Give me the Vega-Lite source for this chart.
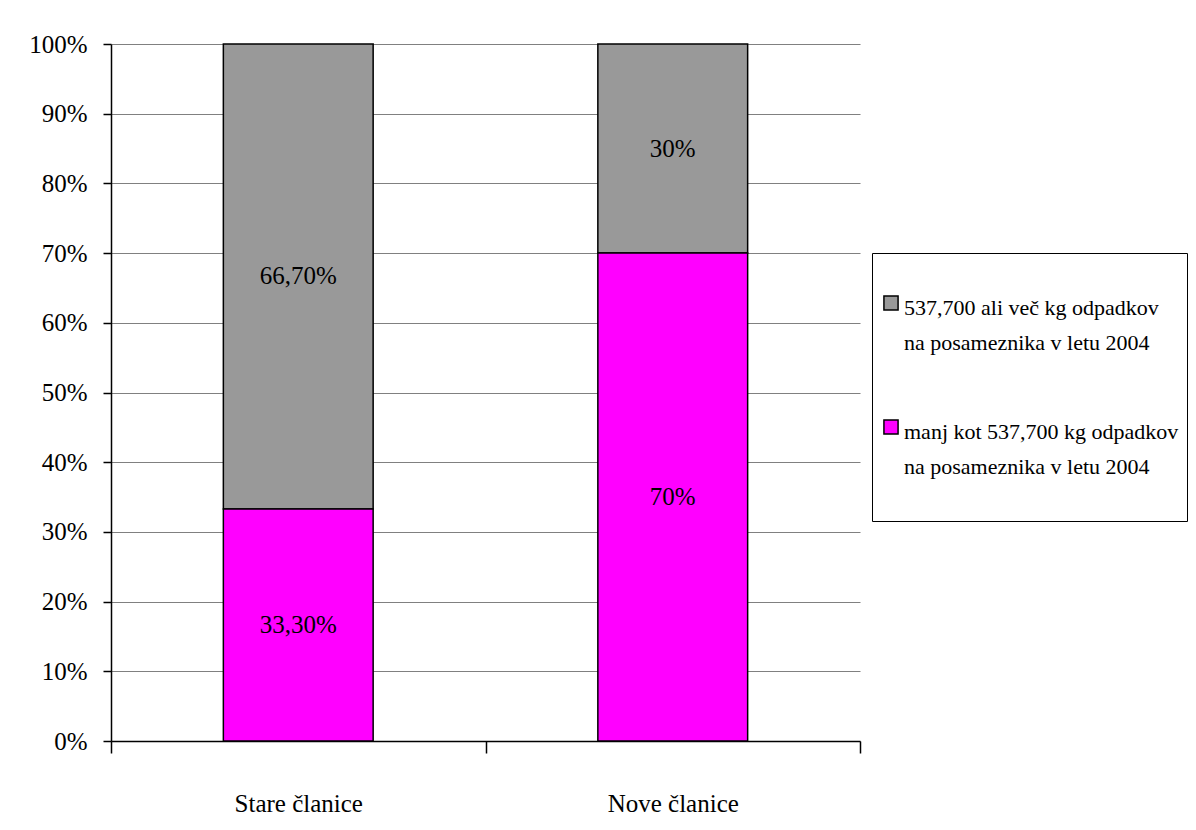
{
  "$schema": "https://vega.github.io/schema/vega-lite/v6.json",
  "autosize": {"type": "none"},
  "width": 749,
  "height": 697,
  "padding": {"left": 111, "top": 44, "right": 336, "bottom": 89},
  "background": "white",
  "data": {
    "values": [
      {"group": "Stare članice", "cat": "537,700 ali več kg odpadkov|na posameznika v letu 2004", "value": 0.667, "label": "66,70%", "ord": 2},
      {"group": "Stare članice", "cat": "manj kot 537,700 kg odpadkov|na posameznika v letu 2004", "value": 0.333, "label": "33,30%", "ord": 1},
      {"group": "Nove članice", "cat": "537,700 ali več kg odpadkov|na posameznika v letu 2004", "value": 0.30, "label": "30%", "ord": 2},
      {"group": "Nove članice", "cat": "manj kot 537,700 kg odpadkov|na posameznika v letu 2004", "value": 0.70, "label": "70%", "ord": 1}
    ]
  },
  "transform": [
    {"stack": "value", "groupby": ["group"], "sort": [{"field": "ord", "order": "ascending"}], "as": ["y0", "y1"]},
    {"calculate": "(datum.y0 + datum.y1) / 2", "as": "ymid"}
  ],
  "encoding": {
    "x": {
      "field": "group", "type": "nominal",
      "sort": ["Stare članice", "Nove članice"],
      "scale": {"paddingInner": 0, "paddingOuter": 0},
      "axis": {
        "title": null, "labelAngle": 0, "tickBand": "extent",
        "labelFont": "Liberation Serif", "labelFontSize": 25, "labelColor": "black",
        "labelPadding": 38, "tickSize": 12, "tickColor": "black", "tickWidth": 1.5,
        "domainColor": "black", "domainWidth": 1.5, "grid": false
      }
    }
  },
  "layer": [
    {
      "mark": {"type": "bar", "width": {"band": 0.4}, "stroke": "black", "strokeWidth": 1.5},
      "encoding": {
        "y": {
          "field": "y0", "type": "quantitative",
          "scale": {"domain": [0, 1], "nice": false},
          "axis": {
            "title": null, "format": ".0%", "values": [0, 0.1, 0.2, 0.3, 0.4, 0.5, 0.6, 0.7, 0.8, 0.9, 1],
            "labelFont": "Liberation Serif", "labelFontSize": 25, "labelColor": "black",
            "labelPadding": 16, "tickSize": 8, "tickColor": "black", "tickWidth": 1.5,
            "domainColor": "black", "domainWidth": 1.5,
            "grid": true, "gridColor": "#808080", "gridWidth": 1.2, "gridOpacity": 1
          }
        },
        "y2": {"field": "y1"},
        "color": {
          "field": "cat", "type": "nominal",
          "scale": {
            "domain": ["537,700 ali več kg odpadkov|na posameznika v letu 2004", "manj kot 537,700 kg odpadkov|na posameznika v letu 2004"],
            "range": ["#999999", "#FF00FF"]
          },
          "legend": {
            "title": " ", "titleFontSize": 23, "titlePadding": 8,
            "orient": "none", "legendX": 761, "legendY": 209,
            "labelExpr": "datum.index == 1 ? split(datum.label + '| ', '|') : split(datum.label, '|')",
            "labelFont": "Liberation Serif", "labelFontSize": 22, "labelColor": "black",
            "labelLimit": 400, "labelOffset": 2, "labelBaseline": "top",
            "symbolType": "square", "symbolSize": 200, "symbolStrokeColor": "black", "symbolStrokeWidth": 1.5, "symbolOpacity": 1,
            "rowPadding": 62, "padding": 8,
            "strokeColor": "black", "fillColor": "white",
            "encoding": {
              "labels": {"lineHeight": {"value": 35}, "dy": {"value": -5}}
            }
          }
        }
      }
    },
    {
      "mark": {"type": "text", "font": "Liberation Serif", "fontSize": 25, "color": "black", "baseline": "middle"},
      "encoding": {
        "y": {"field": "ymid", "type": "quantitative"},
        "text": {"field": "label", "type": "nominal"}
      }
    }
  ],
  "config": {
    "view": {"stroke": null},
    "style": {"guide-label": {"lineHeight": 35}}
  }
}
